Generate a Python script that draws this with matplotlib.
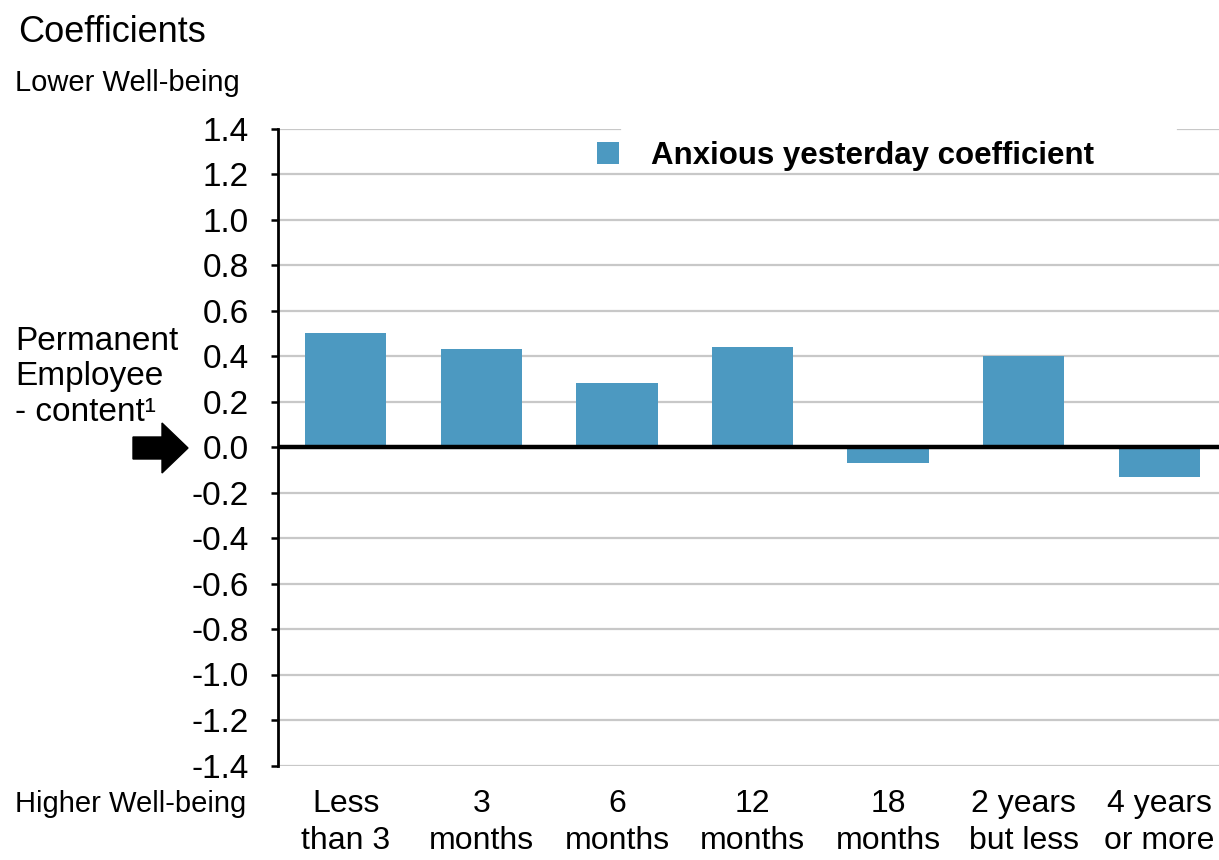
import numpy as np
import matplotlib
matplotlib.use('Agg')
import matplotlib.pyplot as plt
from matplotlib.patches import FancyArrow

plt.rcParams['font.family'] = ['Liberation Sans', 'DejaVu Sans']
plt.rcParams['axes.unicode_minus'] = False

# data
categories = ['Less\nthan 3', '3\nmonths', '6\nmonths', '12\nmonths',
              '18\nmonths', '2 years\nbut less', '4 years\nor more']
anxious = [0.50, 0.43, 0.28, 0.44, -0.07, 0.40, -0.13]
yticks = np.arange(-1.4, 1.41, 0.2)

bar_color = '#4C99C1'

fig = plt.figure(figsize=(12.19, 8.6), dpi=100)
ax = fig.add_axes([278 / 1219, 1 - 765.5 / 860, 1 - 278 / 1219, (765.5 - 128.5) / 860])

x = np.arange(len(categories))
ax.bar(x, anxious, width=0.6, color=bar_color, zorder=2,
       label='Anxious yesterday coefficient')

ax.set_xlim(-0.5, 6.44)
ax.set_ylim(-1.4, 1.4)
ax.set_yticks(yticks)
ax.set_yticklabels(['%.1f' % abs(v) if abs(v) < 1e-9 else '%.1f' % v for v in yticks])
ax.set_xticks(x)
ax.set_xticklabels(categories, fontsize=23, linespacing=1.32)

# gridlines (top one is interrupted behind the legend)
for v in yticks[:-1]:
    ax.axhline(v, color='#C8C8C8', lw=1.6, zorder=1)
ax.axhline(yticks[-1], xmin=0, xmax=0.363, color='#C8C8C8', lw=1.6, zorder=1)
ax.axhline(yticks[-1], xmin=0.956, xmax=1, color='#C8C8C8', lw=1.6, zorder=1)
ax.axhline(0, color='black', lw=3.2, zorder=3)

for s in ['top', 'right', 'bottom']:
    ax.spines[s].set_visible(False)
ax.spines['left'].set_linewidth(2)
ax.spines['left'].set_zorder(4)
ax.tick_params(axis='y', length=5, width=1.8, labelsize=24, pad=16, direction='out')
ax.tick_params(axis='x', length=0, pad=17)

leg = ax.legend(loc='upper left', bbox_to_anchor=(0.3245, 1.003), frameon=False,
                prop={'size': 22.5, 'weight': 'bold'}, handlelength=0.7,
                handleheight=0.7, handletextpad=1.0, borderpad=0.45,
                borderaxespad=0)
leg.set_zorder(5)

# side annotations
fig.text(18 / 1219, 1 - 33 / 860, 'Coefficients', fontsize=26, va='center', ha='left')
fig.text(15 / 1219, 1 - 83 / 860, 'Lower Well-being', fontsize=21, va='center', ha='left')
fig.text(15 / 1219, 1 - 804 / 860, 'Higher Well-being', fontsize=21, va='center', ha='left')
fig.text(15 / 1219, 1 - 377 / 860, 'Permanent\nEmployee\n- content\u00b9', fontsize=24,
         va='center', ha='left', linespacing=1.2)

arrow = FancyArrow(133 / 1219, 1 - 448 / 860, 55 / 1219, 0, width=22 / 860,
                   head_width=50 / 860, head_length=26 / 1219,
                   length_includes_head=True, color='black',
                   transform=fig.transFigure, figure=fig)
fig.patches.append(arrow)

fig.savefig('out.png', dpi=100)
